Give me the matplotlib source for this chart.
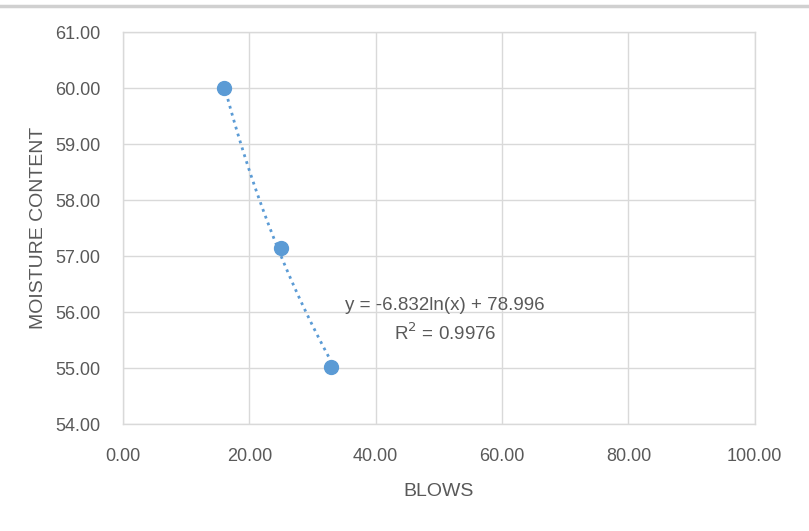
import numpy as np
import matplotlib.pyplot as plt
from matplotlib.lines import Line2D

################################################################################
# Data
################################################################################
blows = [16, 25, 33]
moisture = [60.00, 57.14, 55.02]

# log trendline coefficients (y = a*ln(x) + b)
fit_a = -6.832
fit_b = 78.996
fit_r2 = 0.9976

x_ticks = [0, 20, 40, 60, 80, 100]
y_ticks = [54, 55, 56, 57, 58, 59, 60, 61]

blue = "#5B9BD5"
grid_c = "#D9D9D9"
text_c = "#595959"

plt.rcParams["font.family"] = ["Liberation Sans", "DejaVu Sans"]

################################################################################
# Figure
################################################################################
fig = plt.figure(figsize=(8.09, 5.31), dpi=100)
ax = fig.add_axes([0.152, 0.2015, 0.781, 0.7382])

# trendline
xt = np.linspace(min(blows), max(blows), 100)
ax.plot(xt, fit_a * np.log(xt) + fit_b, linestyle=(0, (1, 1.6)), color=blue,
        linewidth=2.0, zorder=2)
ax.plot(blows, moisture, "o", color=blue, markersize=10, zorder=3)

ax.text(51.0, 56.12, "y = %.3fln(x) + %.3f" % (fit_a, fit_b), ha="center",
        va="center", fontsize=13.5, color=text_c)
ax.text(51.0, 55.62, "R$^2$ = %.4f" % fit_r2, ha="center", va="center",
        fontsize=13.5, color=text_c)

################################################################################
# Axis formatting
################################################################################
ax.set_xlim(0, 100)
ax.set_ylim(54, 61)
ax.set_xticks(x_ticks)
ax.set_yticks(y_ticks)
ax.set_xticklabels(["%.2f" % v for v in x_ticks])
ax.set_yticklabels(["%.2f" % v for v in y_ticks])
ax.tick_params(length=0, labelsize=13, labelcolor=text_c)
ax.tick_params(axis="y", pad=16)
ax.tick_params(axis="x", pad=17)
ax.grid(True, color=grid_c, linewidth=1.0)
ax.set_axisbelow(True)
for s in ax.spines.values():
    s.set_color(grid_c)
    s.set_linewidth(1.0)

ax.set_xlabel("BLOWS", fontsize=14, color=text_c, labelpad=13)
ax.set_ylabel("MOISTURE CONTENT", fontsize=14, color=text_c, labelpad=6)

# thin rule across the top of the sheet
fig.add_artist(Line2D([0, 1], [0.988, 0.988], transform=fig.transFigure,
                      color="#D0D0D0", linewidth=2.5))

plt.savefig("out.png", dpi=100)
plt.close()
